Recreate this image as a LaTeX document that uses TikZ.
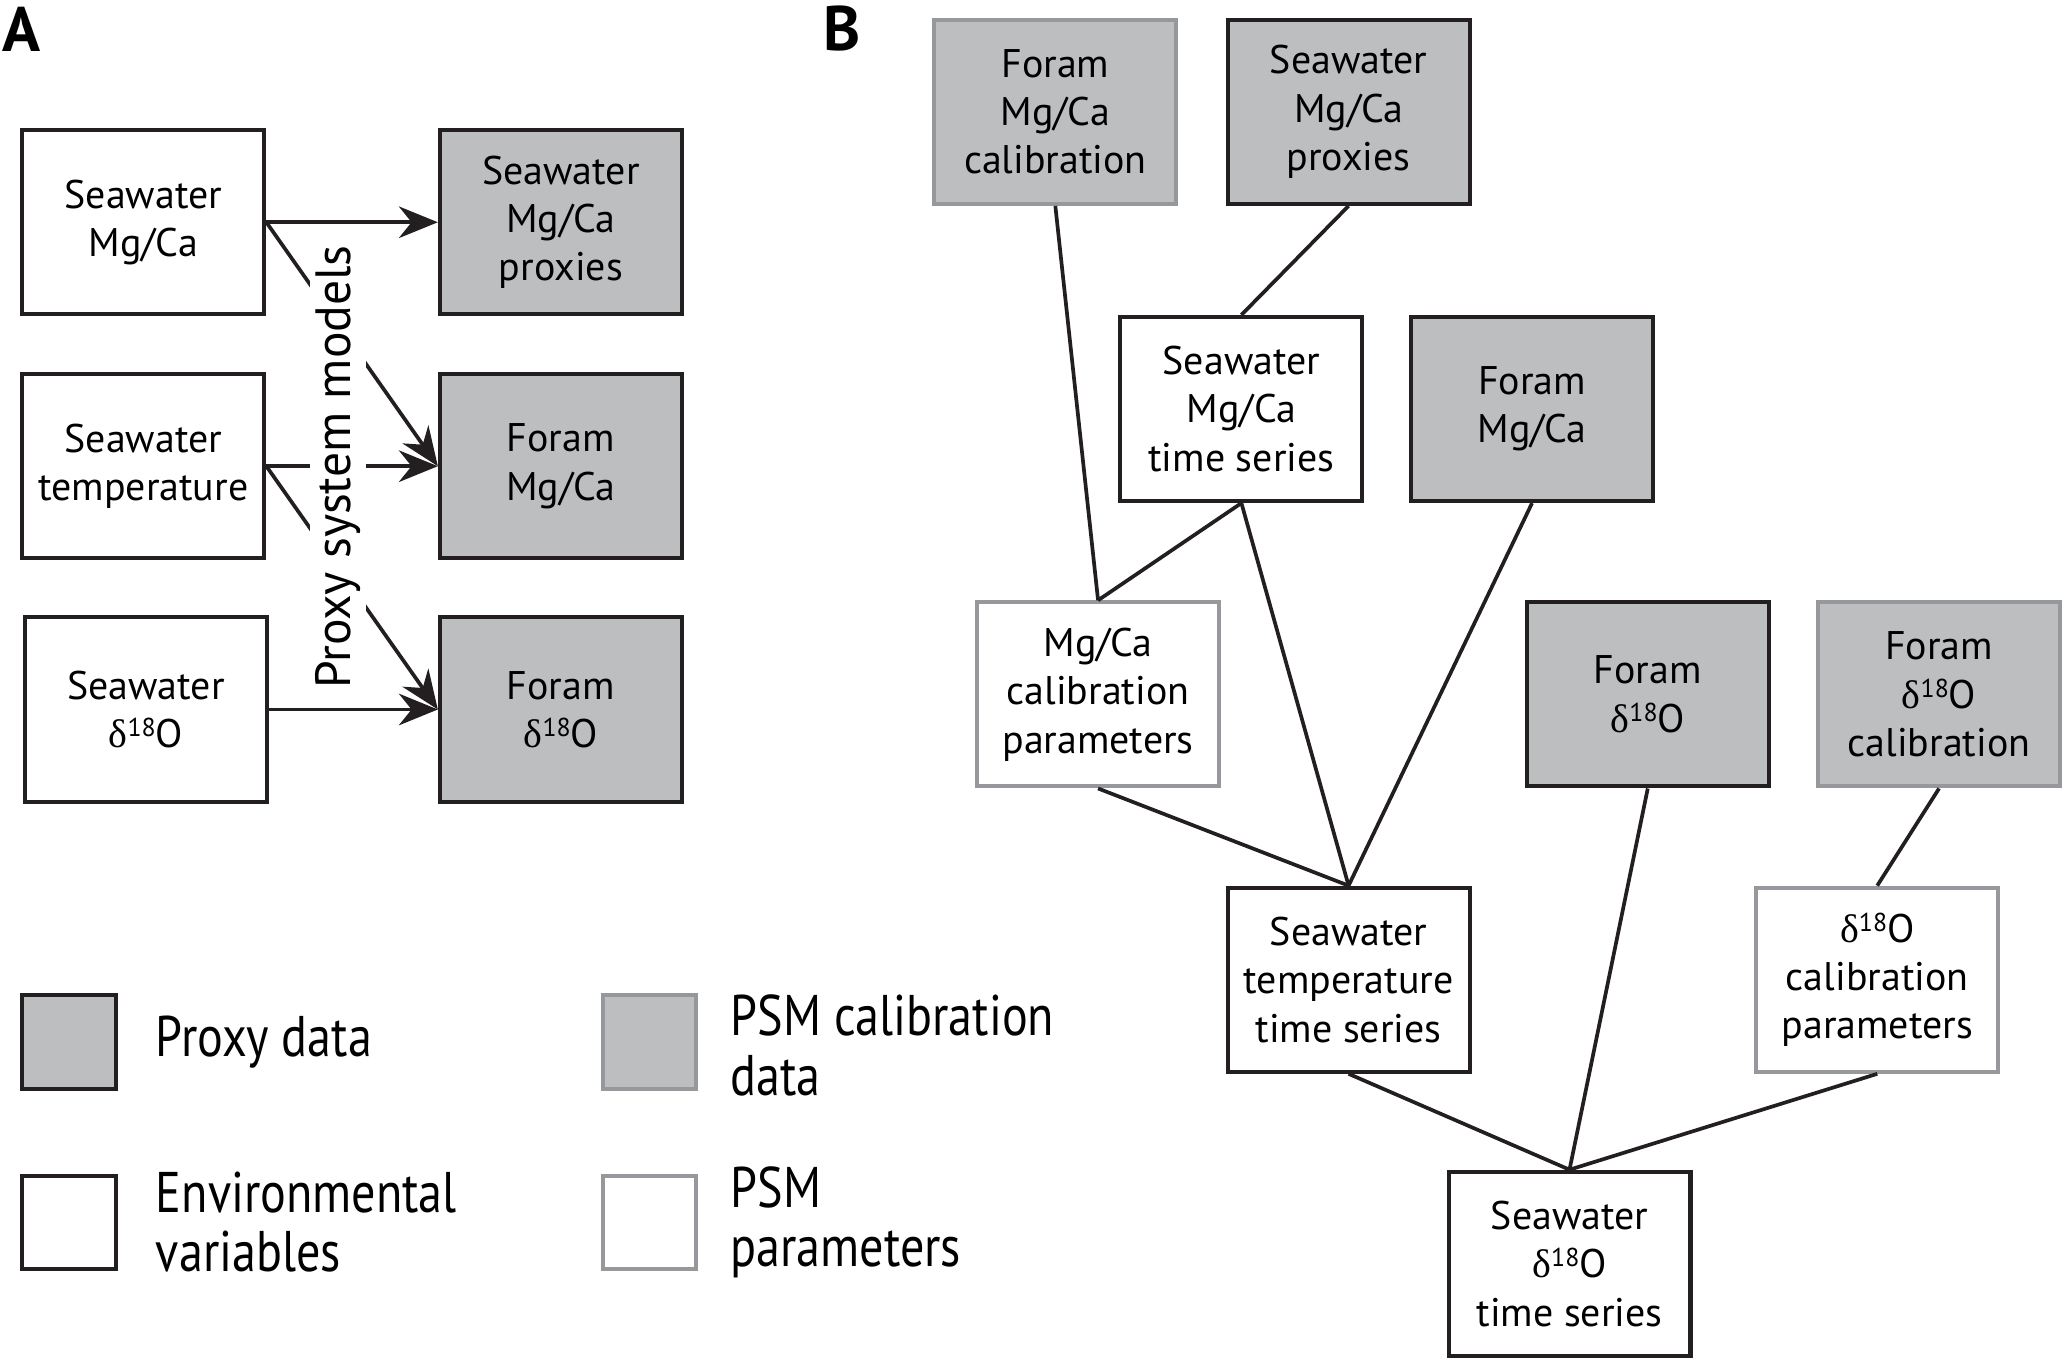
\documentclass[tikz,border=0pt]{standalone}
\usepackage{fontspec}
\setmainfont{PT Sans}
\newfontfamily\grec{Liberation Serif}
\newfontfamily\etroit[FakeStretch=0.84]{PT Sans}
\usetikzlibrary{arrows.meta}
\definecolor{gristrait}{RGB}{35,31,32}
\definecolor{grisfond}{RGB}{188,190,192}
\definecolor{grisclair}{RGB}{150,152,155}
\newcommand{\isoO}{{\grec δ}\raisebox{0.55ex}{\fontsize{7}{7}\selectfont 18}O}

\begin{document}
\begin{tikzpicture}[x=0.125mm,y=-0.125mm,font=\fontsize{10.8}{13.1}\selectfont,
	boite/.style={rectangle,minimum width=23mm,minimum height=17.5mm,align=center,inner sep=0pt,line width=1.1pt},
	donnee/.style={boite,draw=gristrait,fill=grisfond},
	envir/.style={boite,draw=gristrait,fill=white},
	calib/.style={boite,draw=grisclair,fill=grisfond},
	param/.style={boite,draw=grisclair,fill=white},
	lien/.style={gristrait,line width=1pt},
	fleche/.style={lien,-{Stealth[length=3.7mm,width=3mm,inset=1.2mm]}},
	carre/.style={minimum size=8.9mm,inner sep=0pt,line width=1.1pt},
	legtexte/.style={anchor=west,align=left,inner sep=0pt,font=\etroit\fontsize{15.5}{16}\selectfont},
	lettre/.style={font=\bfseries\fontsize{17}{18}\selectfont}]
	\useasboundingbox (0,0) rectangle (1568,1033);
	% A
	\node[lettre] (lA) at (16,22) {A};
	\node[envir] (envMg) at (109,169) {Seawater\\Mg/Ca};
	\node[envir] (envT) at (109,354.5) {Seawater\\temperature};
	\node[envir] (envO) at (111,539.5) {Seawater\\\isoO};
	\node[donnee] (pxMg) at (426.5,169) {Seawater\\Mg/Ca\\proxies};
	\node[donnee] (pxFMg) at (426.5,354.5) {Foram\\Mg/Ca};
	\node[donnee] (pxFO) at (426.5,539.5) {Foram\\\isoO};
	\draw[fleche] (envMg.east) -- (pxMg.west);
	\draw[fleche] (envMg.east) -- (pxFMg.west);
	\draw[fleche] (envT.east) -- (pxFMg.west);
	\draw[fleche] (envT.east) -- (pxFO.west);
	\draw[fleche] (envO.east) -- (pxFO.west);
	\node[rotate=90,fill=white,inner sep=1.5pt,font=\fontsize{13.4}{16}\selectfont] (psm) at (257,355) {Proxy system models};
	% legende
	\node[carre,draw=gristrait,fill=grisfond] (lgPx) at (52.5,792.5) {};
	\node[legtexte] (tPx) at (118,792.5) {Proxy data};
	\node[carre,draw=gristrait,fill=white] (lgEnv) at (52.5,929.5) {};
	\node[legtexte] (tEnv) at (118,929.5) {Environmental\\variables};
	\node[carre,draw=grisclair,fill=grisfond] (lgCal) at (494,792.5) {};
	\node[legtexte] (tCal) at (555,795) {PSM calibration\\data};
	\node[carre,draw=grisclair,fill=white] (lgPar) at (494,929.5) {};
	\node[legtexte] (tPar) at (555,929.5) {PSM\\parameters};
	% B
	\node[lettre] (lB) at (640,22) {B};
	\node[calib] (calFMg) at (802.5,85) {Foram\\Mg/Ca\\calibration};
	\node[donnee] (pxSMg) at (1025.5,85) {Seawater\\Mg/Ca\\proxies};
	\node[envir] (tsMg) at (944,311) {Seawater\\Mg/Ca\\time series};
	\node[donnee] (pxFMgB) at (1165,311) {Foram\\Mg/Ca};
	\node[param] (parMg) at (835,528) {Mg/Ca\\calibration\\parameters};
	\node[donnee] (pxFOB) at (1253,528) {Foram\\\isoO};
	\node[calib] (calFO) at (1474.5,528) {Foram\\\isoO\\calibration};
	\node[envir] (tsT) at (1025.5,745) {Seawater\\temperature\\time series};
	\node[param] (parO) at (1427.5,745) {\isoO\\calibration\\parameters};
	\node[envir] (tsO) at (1193.5,961) {Seawater\\\isoO\\time series};
	\draw[lien] (calFMg.south) -- (parMg.north);
	\draw[lien] (pxSMg.south) -- (tsMg.north);
	\draw[lien] (tsMg.south) -- (parMg.north);
	\draw[lien] (tsMg.south) -- (tsT.north);
	\draw[lien] (pxFMgB.south) -- (tsT.north);
	\draw[lien] (parMg.south) -- (tsT.north);
	\draw[lien] (tsT.south) -- (tsO.north);
	\draw[lien] (pxFOB.south) -- (tsO.north);
	\draw[lien] (calFO.south) -- (parO.north);
	\draw[lien] (parO.south) -- (tsO.north);
\end{tikzpicture}
\end{document}
